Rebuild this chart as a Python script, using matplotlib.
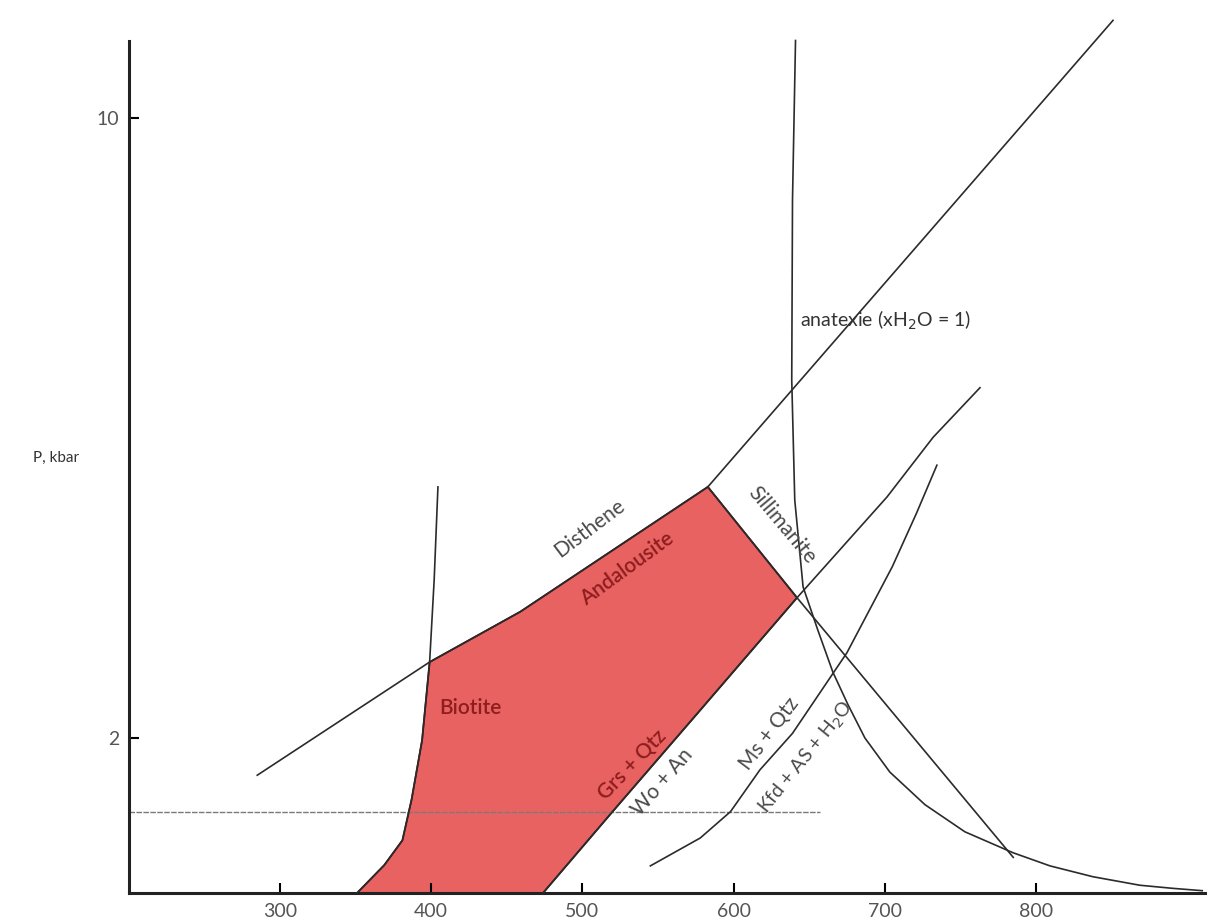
import matplotlib.pyplot as plt
from matplotlib.patches import Polygon

plt.rcParams['font.family'] = ['Lato', 'DejaVu Sans']

# Axis setup
x_ticks = [300, 400, 500, 600, 700, 800]
y_ticks = [2, 10]

# Aluminosilicate boundary (kyanite/andalusite, then kyanite/sillimanite)
alsi_T = [285, 399, 459, 583, 851]
alsi_P = [1.52, 2.98, 3.63, 5.24, 11.26]

# Andalusite / sillimanite boundary
sil_T = [583, 642, 785]
sil_P = [5.24, 3.81, 0.46]

# Biotite-in line
bio_T = [404.5, 402, 399, 394, 387, 381, 369, 351]
bio_P = [5.24, 4.04, 2.98, 1.97, 1.20, 0.68, 0.36, 0.0]

# Grs + Qtz = Wo + An
grs_T = [474, 520, 578, 642, 701.5, 732, 763]
grs_P = [0.0, 1.05, 2.36, 3.81, 5.11, 5.88, 6.52]

# Ms + Qtz = Kfd + AS + H2O
ms_T = [545, 578, 598, 617.5, 639, 666, 675, 705, 721, 734.5]
ms_P = [0.35, 0.71, 1.05, 1.59, 2.06, 2.84, 3.10, 4.21, 4.90, 5.52]

# Wet granite solidus (anatexis)
ana_T = [641, 639, 638.5, 640.5, 646, 655.8, 665.7, 675.7, 686.9, 703.4, 726.6,
         753, 784.8, 809.3, 837.7, 868.8, 890.6, 910]
ana_P = [11.0, 8.94, 6.62, 5.07, 3.95, 3.39, 2.85, 2.43, 2.0, 1.56, 1.14,
         0.79, 0.52, 0.35, 0.21, 0.10, 0.06, 0.03]

# Shaded stability field
field_T = [351, 369, 381, 387, 394, 399, 459, 583, 642, 578, 520, 474]
field_P = [0.0, 0.36, 0.68, 1.20, 1.97, 2.98, 3.63, 5.24, 3.81, 2.36, 1.05, 0.0]

# Reference isobar
isobar_P = 1.05
isobar_T = [200, 657]

line_color = '#2b2b2b'
label_gray = '#4a4a4a'
label_red = '#8e1d1d'

fig = plt.figure(figsize=(12.09, 9.23), dpi=100)
ax = fig.add_axes([0.1065, 0.0325, 0.8904, 0.9488])

ax.add_patch(Polygon(list(zip(field_T, field_P)), closed=True,
                     facecolor='#e96262', edgecolor='#3b1616', linewidth=1.3, zorder=1))

ax.plot(isobar_T, [isobar_P, isobar_P], color='#7a7a7a', linewidth=1.0,
        linestyle=(0, (4, 1)), zorder=2)
for T, P in [(alsi_T, alsi_P), (sil_T, sil_P), (bio_T, bio_P),
             (grs_T, grs_P), (ms_T, ms_P), (ana_T, ana_P)]:
    ax.plot(T, P, color=line_color, linewidth=1.2, zorder=3, clip_on=False)

# Labels
fs = 15
ax.text(644, 7.39, r'anatexie (xH$_2$O = 1)', fontsize=14, color='#333333', va='center')
ax.text(505, 4.71, 'Disthene', fontsize=fs, color=label_gray, rotation=37,
        ha='center', va='center', rotation_mode='anchor')
ax.text(529.5, 4.19, 'Andalousite', fontsize=fs, color=label_red, rotation=36,
        ha='center', va='center', rotation_mode='anchor', fontweight='semibold')
ax.text(632, 4.75, 'Sillimanite', fontsize=fs, color=label_gray, rotation=-50,
        ha='center', va='center', rotation_mode='anchor')
ax.text(426, 2.39, 'Biotite', fontsize=fs, color=label_red, ha='center', va='center',
        fontweight='semibold')
ax.text(533, 1.65, 'Grs + Qtz', fontsize=fs, color=label_red, rotation=46,
        ha='center', va='center', rotation_mode='anchor', fontweight='semibold')
ax.text(553, 1.43, 'Wo + An', fontsize=fs, color=label_gray, rotation=49,
        ha='center', va='center', rotation_mode='anchor')
ax.text(624, 2.06, 'Ms + Qtz', fontsize=fs, color=label_gray, rotation=53,
        ha='center', va='center', rotation_mode='anchor')
ax.text(648, 1.75, r'Kfd + AS + H$_2$O', fontsize=14, color=label_gray, rotation=51,
        ha='center', va='center', rotation_mode='anchor')
ax.text(152, 5.61, 'P, kbar', fontsize=11, color='#333333', ha='center', va='center',
        clip_on=False)

# Axes styling
ax.set_xlim(200, 912)
ax.set_ylim(0, 11.3)
ax.set_xticks(x_ticks)
ax.set_yticks(y_ticks)
ax.tick_params(direction='in', length=7, width=1.5, labelsize=14,
               labelcolor='#555555', pad=7)
for side in ['top', 'right']:
    ax.spines[side].set_visible(False)
for side in ['left', 'bottom']:
    ax.spines[side].set_linewidth(2.2)
    ax.spines[side].set_color('#222222')
ax.spines['left'].set_bounds(0, 11)

plt.savefig('out.png', dpi=100)
